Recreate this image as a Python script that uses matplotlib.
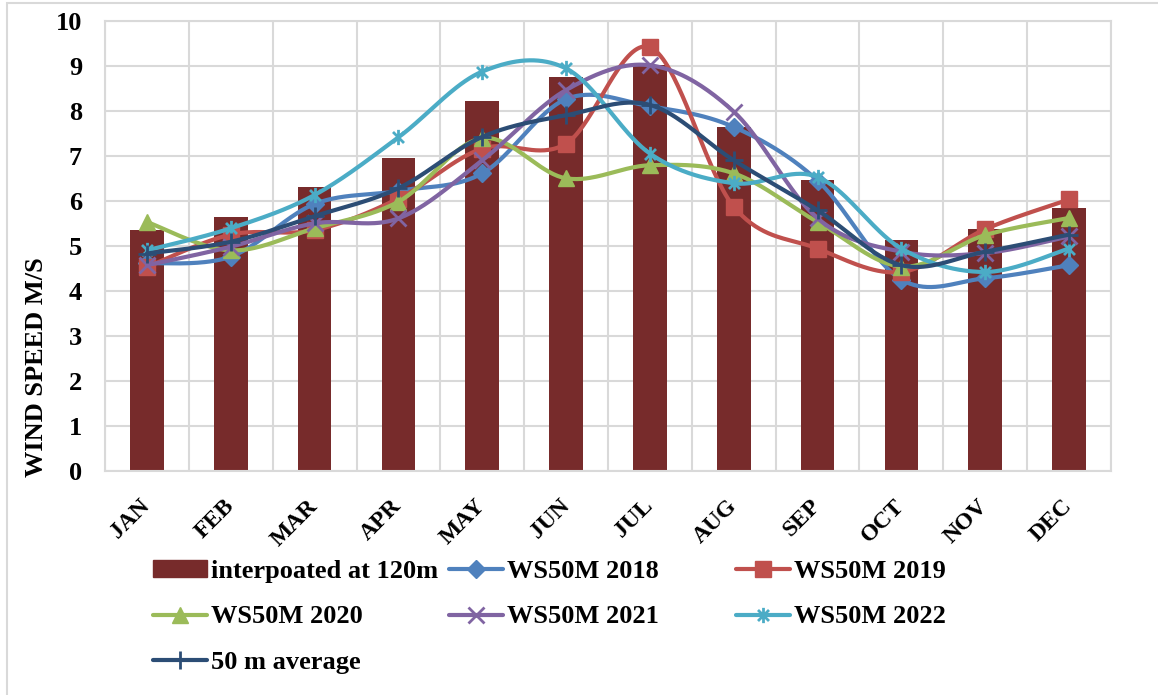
import numpy as np
import matplotlib
matplotlib.use("Agg")
import matplotlib.pyplot as plt
from matplotlib.path import Path
from matplotlib.lines import Line2D
from matplotlib.patches import Patch, Rectangle

months = ["JAN", "FEB", "MAR", "APR", "MAY", "JUN", "JUL", "AUG", "SEP", "OCT", "NOV", "DEC"]

interp_120m = [5.36, 5.63, 6.30, 6.94, 8.22, 8.76, 9.01, 7.64, 6.46, 5.12, 5.38, 5.85]
ws50m_2018 = [4.61, 4.76, 5.93, 6.22, 6.61, 8.26, 8.10, 7.64, 6.45, 4.25, 4.28, 4.57]
ws50m_2019 = [4.53, 5.25, 5.35, 6.05, 7.16, 7.27, 9.41, 5.87, 4.94, 4.42, 5.37, 6.03]
ws50m_2020 = [5.53, 4.90, 5.39, 5.98, 7.39, 6.50, 6.79, 6.61, 5.53, 4.54, 5.24, 5.62]
ws50m_2021 = [4.57, 4.98, 5.50, 5.61, 6.90, 8.46, 9.01, 7.98, 5.61, 4.87, 4.84, 5.21]
ws50m_2022 = [4.90, 5.39, 6.13, 7.41, 8.87, 8.94, 7.05, 6.39, 6.53, 4.94, 4.42, 4.94]
avg_50m = [4.83, 5.09, 5.66, 6.28, 7.42, 7.90, 8.13, 6.90, 5.79, 4.57, 4.87, 5.25]

plt.rcParams["font.family"] = ["Liberation Serif", "DejaVu Serif"]
plt.rcParams["font.weight"] = "bold"

# asterisk marker: vertical bar plus an x
star = Path([(0, -1), (0, 1), (-0.72, -0.72), (0.72, 0.72), (-0.72, 0.72), (0.72, -0.72)],
            [Path.MOVETO, Path.LINETO] * 3)


def smooth(y, n=40):
    # Bezier smoothing through every point (Catmull-Rom style control points)
    x = np.arange(len(y), dtype=float)
    pts = np.column_stack([x, np.asarray(y, dtype=float)])
    P = np.vstack([pts[0], pts, pts[-1]])
    t = np.linspace(0, 1, n)[:, None]
    out = []
    for i in range(len(pts) - 1):
        p0, p1, p2, p3 = P[i], P[i + 1], P[i + 2], P[i + 3]
        c1 = p1 + (p2 - p0) / 6
        c2 = p2 - (p3 - p1) / 6
        seg = (1 - t) ** 3 * p1 + 3 * (1 - t) ** 2 * t * c1 + 3 * (1 - t) * t ** 2 * c2 + t ** 3 * p2
        out.append(seg if i == 0 else seg[1:])
    return np.vstack(out)


series = [
    ("WS50M 2018", ws50m_2018, "#4F81BD", "D", 9, 1),
    ("WS50M 2019", ws50m_2019, "#C0504D", "s", 11, 1),
    ("WS50M 2020", ws50m_2020, "#9BBB59", "^", 12, 1),
    ("WS50M 2021", ws50m_2021, "#8064A2", "x", 11, 2),
    ("WS50M 2022", ws50m_2022, "#4BACC6", star, 11, 2),
    ("50 m average", avg_50m, "#2C4D75", "+", 13, 2),
]

fig = plt.figure(figsize=(11.58, 6.95), dpi=100)
ax = fig.add_axes([105 / 1158, 1 - 471 / 695, 1006 / 1158, 450.3 / 695])

x = np.arange(len(months))
bar_color = "#772B2B"
ax.bar(x, interp_120m, width=0.4, color=bar_color, zorder=2)

handles = {}
for i, (name, vals, col, mk, ms, mew) in enumerate(series):
    curve = smooth(vals)
    ax.plot(curve[:, 0], curve[:, 1], color=col, lw=3, solid_capstyle="round", zorder=3 + i)
    ax.plot(x, vals, ls="none", marker=mk, ms=ms, color=col, mec=col, mew=mew, zorder=3 + i)
    handles[name] = Line2D([], [], color=col, lw=3, marker=mk, ms=ms, mec=col, mew=mew,
                           solid_capstyle="round")
handles["interpoated at 120m"] = Patch(color=bar_color)

ax.set_xlim(-0.5, 11.5)
ax.set_ylim(0, 10)
ax.set_yticks(range(0, 11))
ax.set_xticks(x)
ax.set_xticklabels([])
ax.set_xticks(np.arange(-0.5, 12, 1), minor=True)
ax.grid(True, axis="y", color="#D9D9D9", lw=1.5, zorder=0)
ax.grid(True, axis="x", which="minor", color="#D9D9D9", lw=1.5, zorder=0)
ax.set_axisbelow(True)
for s in ax.spines.values():
    s.set_color("#D9D9D9")
    s.set_linewidth(1.5)
ax.tick_params(axis="both", which="both", length=0)
ax.tick_params(axis="y", pad=16.5, labelsize=19)

for xi, m in zip(x, months):
    ax.annotate(m, xy=(xi, 0), xycoords="data", xytext=(0, -32), textcoords="offset pixels",
                rotation=45, rotation_mode="anchor", ha="right", va="center",
                fontsize=17, fontweight="bold")

fig.text(37 / 1158, 1 - 367 / 695, "WIND SPEED M/S", rotation=90, ha="center", va="center",
         fontsize=19, fontweight="bold")

# legend, three columns of equal width under the chart
columns = [
    (153, ["interpoated at 120m", "WS50M 2020", "50 m average"]),
    (449, ["WS50M 2018", "WS50M 2021"]),
    (736, ["WS50M 2019", "WS50M 2022"]),
]
for xpix, names in columns:
    fig.legend([handles[n] for n in names], names, loc="upper left",
               bbox_to_anchor=(xpix / 1158, 1 - 560 / 695), frameon=False,
               fontsize=19, handlelength=2.05, handleheight=0.6, handletextpad=0.15,
               labelspacing=0.85, borderpad=0, borderaxespad=0)

fig.patches.append(Rectangle((7 / 1158, -0.05), 1.1, 1.05 - 3 / 695, transform=fig.transFigure,
                             fill=False, edgecolor="#D9D9D9", lw=1.5))

fig.savefig("out.png", dpi=100)
